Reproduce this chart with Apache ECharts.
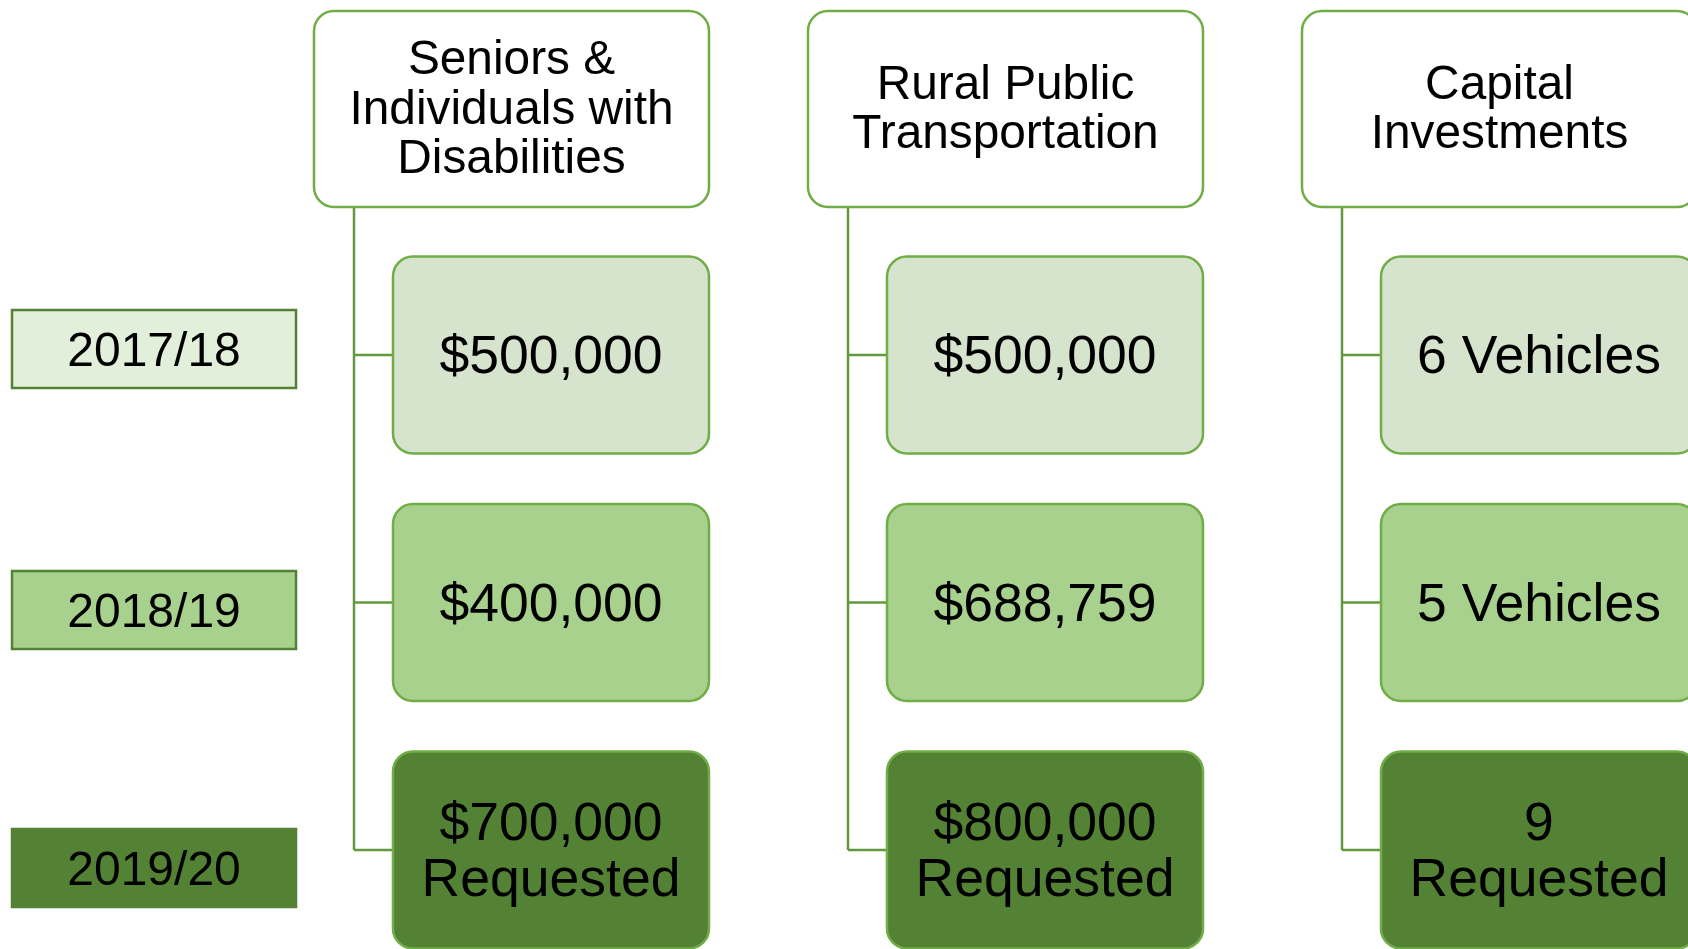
<!DOCTYPE html>
<html>
<head>
<meta charset="utf-8">
<script src="https://cdn.jsdelivr.net/npm/echarts@6/dist/echarts.min.js"></script>
<style>
  html, body { margin: 0; padding: 0; background: #fff; }
  #main { width: 1688px; height: 949px; }
</style>
</head>
<body>
<div id="main"></div>
<script>
// data
const categories = ['Seniors &\nIndividuals with\nDisabilities', 'Rural Public\nTransportation', 'Capital\nInvestments'];
const years = ['2017/18', '2018/19', '2019/20'];
const seniorsValues = ['$500,000', '$400,000', '$700,000\nRequested'];
const ruralValues = ['$500,000', '$688,759', '$800,000\nRequested'];
const capitalValues = ['6 Vehicles', '5 Vehicles', '9\nRequested'];

// layout / styles
const rowFills = ['#D6E3CD', '#A9D18E', '#548235'];
const yearFills = ['#E2EFDA', '#A9D18E', '#548235'];
const yearStrokes = ['#538135', '#538135', '#548235'];
const yearRowPos = [-0.024, 1.03, 2.073];
const yearColPos = -0.8036;
const headerRow = -0.994;
const font = '"Liberation Sans", Arial, sans-serif';

const allValues = [seniorsValues, ruralValues, capitalValues];
const cells = [];
allValues.forEach((vals, c) => vals.forEach((v, r) => cells.push([c, r, v])));

const myChart = echarts.init(document.getElementById('main'));

function textEl(x, y, text, size, lh) {
  return {
    type: 'text',
    style: {
      text: text, x: x, y: y, align: 'center', verticalAlign: 'middle',
      fontSize: size, fontFamily: font, lineHeight: lh, fill: '#000'
    }
  };
}

const option = {
  animation: false,
  grid: { left: 0, top: 0, width: 1688, height: 949 },
  xAxis: { type: 'value', min: -1.11538, max: 2.30162, show: false },
  yAxis: { type: 'value', min: -1.43434, max: 2.4, inverse: true, show: false },
  series: [
    {
      // connectors
      type: 'custom',
      data: categories.map((c, i) => [i, headerRow]),
      renderItem: function (params, api) {
        const col = api.value(0);
        const top = api.coord([col, api.value(1)]);
        const x = top[0] - 197;
        const y0 = top[1] + 98;
        const children = [];
        const last = api.coord([col, years.length - 1]);
        children.push({ type: 'line', shape: { x1: x, y1: y0, x2: x, y2: last[1] },
          style: { stroke: '#62993E', lineWidth: 2.5 } });
        for (let r = 0; r < years.length; r++) {
          const p = api.coord([col, r]);
          children.push({ type: 'line', shape: { x1: x, y1: p[1], x2: p[0] - 158, y2: p[1] },
            style: { stroke: '#62993E', lineWidth: 2.5 } });
        }
        return { type: 'group', children: children };
      }
    },
    {
      // category headers
      type: 'custom',
      data: categories.map((c, i) => [i, headerRow]),
      renderItem: function (params, api) {
        const p = api.coord([api.value(0), api.value(1)]);
        const cx = p[0] - 39.5;
        return {
          type: 'group',
          children: [
            { type: 'rect', shape: { x: cx - 197.5, y: p[1] - 98, width: 395, height: 196, r: 20 },
              style: { fill: '#fff', stroke: '#70AD47', lineWidth: 2.5 } },
            textEl(cx, p[1] + 1.5, categories[params.dataIndex], 47.8, 49.5)
          ]
        };
      }
    },
    {
      // value cells
      type: 'custom',
      data: cells,
      renderItem: function (params, api) {
        const r = api.value(1);
        const p = api.coord([api.value(0), r]);
        return {
          type: 'group',
          children: [
            { type: 'rect', shape: { x: p[0] - 158, y: p[1] - 98.5, width: 316, height: 197, r: 20 },
              style: { fill: rowFills[r], stroke: '#70AD47', lineWidth: 2.5 } },
            textEl(p[0], p[1] + 3.5, cells[params.dataIndex][2], 53.5, 56)
          ]
        };
      }
    },
    {
      // year labels
      type: 'custom',
      data: years.map((y, i) => [yearColPos, yearRowPos[i]]),
      renderItem: function (params, api) {
        const i = params.dataIndex;
        const p = api.coord([api.value(0), api.value(1)]);
        return {
          type: 'group',
          children: [
            { type: 'rect', shape: { x: p[0] - 142, y: p[1] - 39, width: 284, height: 78 },
              style: { fill: yearFills[i], stroke: yearStrokes[i], lineWidth: 2.5 } },
            textEl(p[0], p[1] + 4, years[i], 48, 50)
          ]
        };
      }
    }
  ]
};

option && myChart.setOption(option);
</script>
</body>
</html>
